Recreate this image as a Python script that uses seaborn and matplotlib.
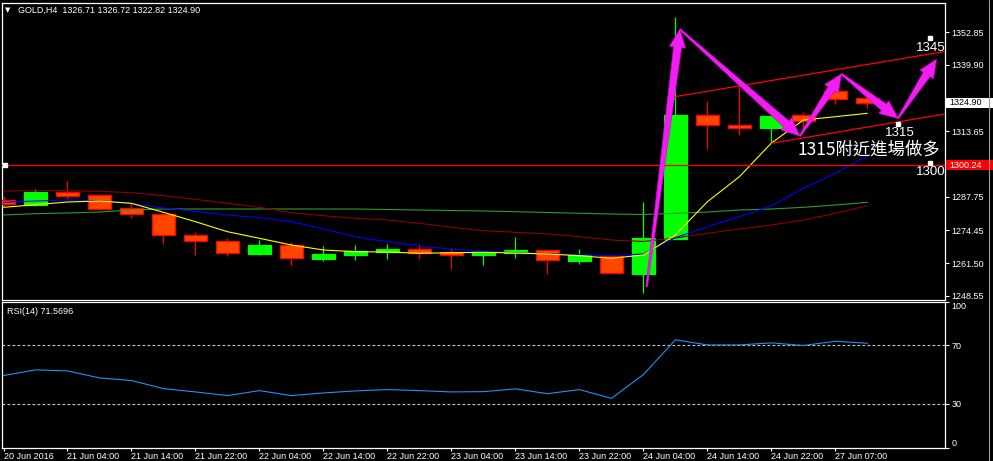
import matplotlib
matplotlib.use('Agg')
import matplotlib.pyplot as plt
import matplotlib.transforms as mtransforms
from matplotlib.patches import Polygon, Rectangle
from matplotlib.lines import Line2D
import seaborn as sns
import numpy as np
import pandas as pd

sns.set_style('dark')
plt.rcParams['font.family'] = ['Liberation Sans', 'DejaVu Sans']

# GOLD H4 bars
opens = [1286.47, 1284.38, 1289.52, 1288.33, 1283.20, 1280.94, 1272.53, 1270.28,
         1265.26, 1268.58, 1263.28, 1264.86, 1266.05, 1267.00, 1265.81, 1264.86,
         1265.42, 1266.72, 1262.49, 1264.35, 1257.35, 1271.18, 1319.94, 1315.99,
         1315.04, 1319.94, 1329.54, 1326.71]
highs = [1288.05, 1290.80, 1293.98, 1288.84, 1285.17, 1281.10, 1273.83, 1271.46,
         1270.67, 1269.88, 1268.30, 1268.70, 1269.09, 1269.09, 1267.51, 1265.93,
         1271.86, 1266.80, 1267.12, 1264.40, 1285.68, 1358.90, 1325.71, 1331.51,
         1319.70, 1321.24, 1335.46, 1326.72]
lows = [1284.10, 1284.20, 1286.87, 1282.52, 1279.48, 1269.21, 1264.75, 1264.47,
        1264.86, 1260.91, 1262.49, 1262.77, 1263.28, 1263.28, 1259.21, 1260.79,
        1263.68, 1257.35, 1261.31, 1257.40, 1249.85, 1271.10, 1306.74, 1312.27,
        1308.88, 1314.13, 1324.40, 1322.82]
closes = [1284.77, 1289.63, 1288.17, 1283.04, 1280.82, 1272.53, 1270.16, 1265.42,
          1268.70, 1263.44, 1265.14, 1266.33, 1267.12, 1265.65, 1264.86, 1265.81,
          1266.72, 1262.65, 1264.63, 1257.51, 1271.46, 1320.06, 1315.99, 1315.04,
          1319.66, 1317.57, 1326.50, 1324.90]

ma_yellow = [1283.59, 1284.62, 1285.68, 1286.08, 1285.17, 1281.61, 1277.90, 1273.95,
             1271.34, 1268.69, 1266.72, 1266.05, 1265.93, 1265.41, 1265.65, 1265.81,
             1265.53, 1265.14, 1264.47, 1263.44, 1264.74, 1272.65, 1285.80, 1295.68,
             1308.99, 1318.08, 1319.39, 1320.73]
ma_blue = [1285.56, 1286.08, 1286.47, 1286.20, 1285.17, 1283.31, 1282.01, 1280.55,
           1279.48, 1277.90, 1275.02, 1271.97, 1270.00, 1268.42, 1267.00, 1266.32,
           1265.65, 1265.26, 1264.86, 1264.47, 1265.14, 1271.58, 1275.92, 1279.88,
           1284.10, 1291.10, 1297.02, 1303.86]
ma_maroon = [1290.03, 1290.15, 1290.15, 1289.91, 1289.36, 1288.17, 1286.75, 1285.17,
             1283.59, 1281.46, 1280.27, 1279.24, 1278.57, 1277.27, 1275.69, 1274.34,
             1273.71, 1273.04, 1271.97, 1270.67, 1270.08, 1271.46, 1273.32, 1275.02,
             1276.60, 1278.57, 1281.22, 1284.22]
ma_green = [1280.55, 1281.06, 1281.34, 1281.73, 1282.52, 1282.92, 1282.92, 1282.92,
            1282.92, 1282.92, 1282.92, 1282.92, 1282.72, 1282.52, 1282.33, 1282.13,
            1281.85, 1281.54, 1281.22, 1280.94, 1280.74, 1281.22, 1281.73, 1282.52,
            1282.92, 1283.59, 1284.50, 1285.56]
rsi = [49.4, 53.3, 52.6, 47.8, 46.0, 40.5, 38.2, 35.7, 39.1, 35.7, 37.5, 38.9,
       39.8, 39.1, 38.2, 38.4, 40.3, 37.0, 39.8, 33.8, 50.1, 73.9, 70.4, 70.4,
       71.8, 70.0, 72.9, 71.57]

time_labels = ['20 Jun 2016', '21 Jun 04:00', '21 Jun 14:00', '21 Jun 22:00',
               '22 Jun 04:00', '22 Jun 14:00', '22 Jun 22:00', '23 Jun 04:00',
               '23 Jun 14:00', '23 Jun 22:00', '24 Jun 04:00', '24 Jun 14:00',
               '24 Jun 22:00', '27 Jun 07:00']
price_ticks = [1352.85, 1339.90, 1313.65, 1287.75, 1274.45, 1261.50, 1248.55]
rsi_ticks = [100, 70, 30, 0]

# drawn objects: channel, support line, path arrows
upper_chan = ([20.98, 29.42], [1327.29, 1345.15])
lower_chan = ([24.00, 29.42], [1308.88, 1320.45])
support = 1300.24
arrow_path = [(20.10, 1252.22), (21.14, 1353.92), (24.89, 1311.76),
              (26.19, 1336.26), (27.96, 1318.75), (29.16, 1342.06)]

df = pd.DataFrame({'bar': np.arange(len(opens)), 'open': opens, 'high': highs,
                   'low': lows, 'close': closes, 'ma1': ma_yellow, 'ma2': ma_blue,
                   'ma3': ma_maroon, 'ma4': ma_green, 'rsi': rsi})
bull = df['close'] >= df['open']

W, H = 993, 461
fig = plt.figure(figsize=(W / 100, H / 100), dpi=100, facecolor='black')
ax = fig.add_axes([2 / W, 1 - 299.5 / H, 942.5 / W, 296.8 / H])
ax2 = fig.add_axes([2 / W, 1 - 447.7 / H, 942.5 / W, 146 / H])

xlim = (-0.047, 29.41)
for a in (ax, ax2):
    a.set_facecolor('black')
    a.set_xlim(*xlim)
    for s in a.spines.values():
        s.set_visible(True)
        s.set_color('white')
        s.set_linewidth(0.9)
    a.grid(False)
ax.set_ylim(1247.16, 1364.43)
ax2.set_ylim(0, 100)

# candles
for sub, wick_c, face, edge in [(df[bull], '#00FF00', '#00FF00', '#00FF00'),
                                (df[~bull], '#FF0000', '#FF4500', '#FF0000')]:
    ax.vlines(sub['bar'], sub['low'], sub['high'], color=wick_c, lw=0.9, zorder=2)
    body = (sub['close'] - sub['open']).abs().clip(lower=0.15)
    ax.bar(sub['bar'], body, bottom=sub[['open', 'close']].min(axis=1), width=0.72,
           color=face, edgecolor=edge, linewidth=0.9, zorder=3)

for col, c in [('ma4', '#2E9B2E'), ('ma3', '#8B0000'), ('ma2', '#0000FF'), ('ma1', '#FFFF00')]:
    sns.lineplot(data=df, x='bar', y=col, ax=ax, color=c, lw=0.8, zorder=4)
ax.set_xlabel('')
ax.set_ylabel('')

ax.axhline(support, color='#FF0000', lw=0.9, zorder=4)
ax.plot(*upper_chan, color='#FF0000', lw=0.9, zorder=4)
ax.plot(*lower_chan, color='#FF0000', lw=0.9, zorder=4)

# arrows, built in pixel space so the heads keep their shape
fig.canvas.draw()
def arrow_poly(p0, p1, w0=1.5, w1=8.0, hw=16.0, hl=18.0):
    p0 = np.asarray(p0, float)
    p1 = np.asarray(p1, float)
    d = p1 - p0
    u = d / np.hypot(*d)
    n = np.array([-u[1], u[0]])
    b = p1 - u * hl
    return [p0 + n * w0 / 2, b + n * w1 / 2, b + n * hw / 2, p1,
            b - n * hw / 2, b - n * w1 / 2, p0 - n * w0 / 2]

pts = ax.transData.transform(arrow_path)
for p0, p1 in zip(pts[:-1], pts[1:]):
    fig.patches.append(Polygon(arrow_poly(p0, p1), closed=True, facecolor='#F21DF2',
                               edgecolor='#E000E0', lw=0.5,
                               transform=mtransforms.IdentityTransform(), figure=fig,
                               zorder=6))

# labels on the chart
for x, y, txt, mx, my in [(28.97, 1346.65, '1345', 28.95, 1350.48),
                          (28.0, 1313.06, '1315', 27.97, 1316.5),
                          (28.97, 1297.54, '1300', 28.95, 1301.1)]:
    ax.text(x, y, txt, color='white', fontsize=9.5, ha='center', va='center', zorder=7)
    ax.plot(mx, my, 's', color='white', ms=2.5, zorder=7)
ax.plot(0.06, support, 's', color='white', ms=2.5, zorder=7, clip_on=False)
ax.text(27.05, 1306.23, '1315附近進場做多', color='white', fontsize=12.5,
        ha='center', va='center', family=['Noto Sans CJK TC', 'DejaVu Sans'], zorder=7)

# price axis
ax.yaxis.tick_right()
ax.set_yticks(price_ticks)
ax.set_yticklabels([f'{v:.2f}' for v in price_ticks])
ax.set_xticks([])
ax.tick_params(axis='y', colors='white', labelsize=6.5, length=3, width=0.8,
               pad=2, right=True, left=False)
blend = mtransforms.blended_transform_factory(fig.transFigure, ax.transData)
half = 1.9
fig.patches.append(Rectangle((946 / W, 1324.90 - half), 47 / W, 2 * half,
                             facecolor='white', edgecolor='none', transform=blend, figure=fig))
fig.text(949 / W, 1324.90, '1324.90', transform=blend, color='black', fontsize=6.5, va='center')
fig.patches.append(Rectangle((946 / W, support - half), 47 / W, 2 * half,
                             facecolor='#FF0000', edgecolor='none', transform=blend, figure=fig))
fig.text(949 / W, support, '1300.24', transform=blend, color='white', fontsize=6.5, va='center')

fig.text(8 / W, 1 - 10 / H, '\u25bc', color='white', fontsize=5, va='center', ha='center',
         family='DejaVu Sans')
fig.text(18 / W, 1 - 10 / H, 'GOLD,H4  1326.71 1326.72 1322.82 1324.90', color='white',
         fontsize=6.5, va='center')

# window edge on the right
fig.add_artist(Line2D([989 / W, 989 / W], [0, 1], color='#9A9A9A', lw=0.8,
                      transform=fig.transFigure))

# RSI panel
for lvl in (30, 70):
    ax2.axhline(lvl, color='#C8C8C8', lw=0.8, ls=(0, (2.5, 2)))
sns.lineplot(data=df, x='bar', y='rsi', ax=ax2, color='#1E90FF', lw=0.8)
ax2.set_xlabel('')
ax2.set_ylabel('')
ax2.text(5 / 942.5, 0.93, 'RSI(14) 71.5696', transform=ax2.transAxes, color='white',
         fontsize=6.5, va='center')
ax2.yaxis.tick_right()
ax2.set_yticks(rsi_ticks)
ax2.set_yticklabels([str(v) for v in rsi_ticks])
ax2.tick_params(axis='y', colors='white', labelsize=6.5, length=3, width=0.8,
                pad=2, right=True, left=False)
for lab, v in zip(ax2.get_yticklabels(), rsi_ticks):
    if v == 100:
        lab.set_va('top')
    elif v == 0:
        lab.set_va('bottom')
ax2.set_xticks(np.arange(0, len(opens), 2))
ax2.set_xticklabels(time_labels)
ax2.tick_params(axis='x', colors='white', labelsize=6.5, length=2.5, width=0.8, pad=0.5,
                bottom=True)
for lab in ax2.get_xticklabels():
    lab.set_ha('left')

fig.savefig('out.png', dpi=100, facecolor='black')
